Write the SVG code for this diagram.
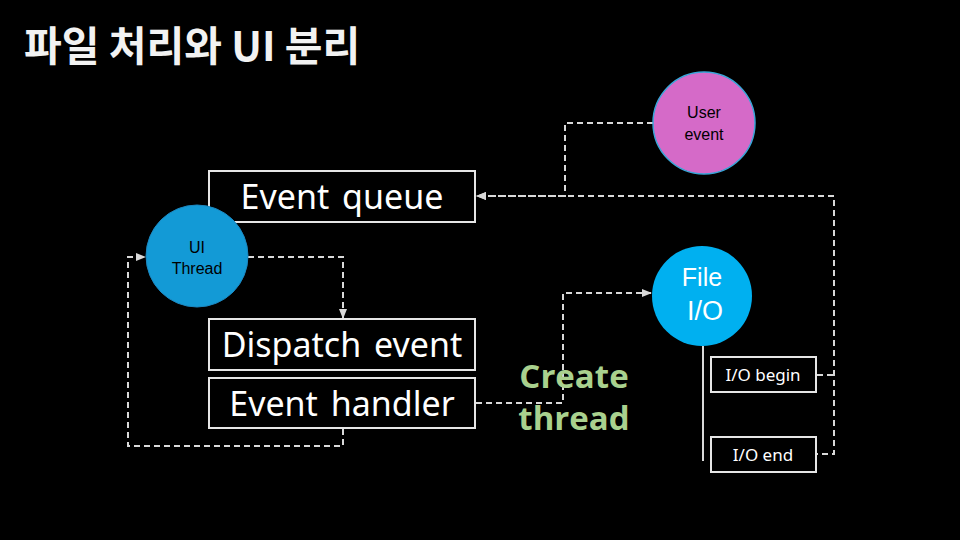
<svg xmlns="http://www.w3.org/2000/svg" width="960" height="540" viewBox="0 0 960 540">
<defs>
<marker id="ah" viewBox="0 0 10 10" refX="9" refY="5" markerWidth="10" markerHeight="10" orient="auto-start-reverse" markerUnits="userSpaceOnUse">
<path d="M0,1 L10,5 L0,9 z" fill="#d9d9d9"/>
</marker>
<style>
.box{fill:#000;stroke:#e6e6e6;stroke-width:2}
.big{font-family:"Noto Sans","Open Sans","Noto Sans CJK KR",sans-serif;font-size:34px;fill:#fff;text-anchor:middle;word-spacing:4px}
.small{font-family:"Noto Sans","Open Sans",sans-serif;font-size:17px;fill:#fff;text-anchor:middle}
.lbl{font-family:"Liberation Sans",Arial,sans-serif;text-anchor:middle}
.dash{fill:none;stroke:#d9d9d9;stroke-width:2;stroke-dasharray:6 4}
.ct{font-family:"Open Sans","Noto Sans",sans-serif;font-size:33px;font-weight:bold;fill:#a9d18e;text-anchor:middle}
</style>
</defs>
<rect width="960" height="540" fill="#000"/>
<text x="24" y="61" font-family="'Noto Sans CJK KR',sans-serif" font-size="41" font-weight="bold" fill="#f2f2f2">파일 처리와 UI 분리</text>

<g id="connectors">
<path class="dash" d="M248,257 H343 V318" marker-end="url(#ah)"/>
<path class="dash" d="M343,429 V446 H128 V257 H145" marker-end="url(#ah)"/>
<path class="dash" d="M653,123 H565 V196 H477" marker-end="url(#ah)"/>
<path class="dash" stroke-dashoffset="5" d="M817,454 H834 V196 H477" marker-end="url(#ah)"/>
<path class="dash" d="M817,375 H834"/>
<path class="dash" d="M476,403 H563 V293 H651" marker-end="url(#ah)"/>
<path d="M703,346 V461" stroke="#d9d9d9" stroke-width="2" fill="none"/>
</g>

<g id="event-queue">
<rect class="box" x="209" y="171" width="266" height="51"/>
<text class="big" x="342" y="209">Event queue</text>
</g>
<g id="ui-thread">
<circle cx="197" cy="256" r="51" fill="#139ad6" stroke="#1c87c0" stroke-width="1"/>
<text class="lbl" x="197" y="253" font-size="16" fill="#000">UI</text>
<text class="lbl" x="197" y="274" font-size="16" fill="#000">Thread</text>
</g>
<g id="dispatch-event">
<rect class="box" x="209" y="319" width="266" height="51"/>
<text class="big" x="342" y="357">Dispatch event</text>
</g>
<g id="event-handler">
<rect class="box" x="209" y="378" width="266" height="50"/>
<text class="big" x="342" y="416">Event handler</text>
</g>
<g id="user-event">
<circle cx="704" cy="123" r="51" fill="#d56ac8" stroke="#3aa6d8" stroke-width="1.5"/>
<text class="lbl" x="704" y="118" font-size="16" fill="#000">User</text>
<text class="lbl" x="704" y="140" font-size="16" fill="#000">event</text>
</g>
<g id="file-io">
<circle cx="702" cy="296" r="50" fill="#00b0f0"/>
<text class="lbl" x="702" y="286" font-size="25" fill="#fff">File</text>
<text class="lbl" x="705" y="320" font-size="27" fill="#fff">I/O</text>
</g>
<g id="io-begin">
<rect class="box" x="711" y="357" width="105" height="35"/>
<text class="small" x="763" y="381">I/O begin</text>
</g>
<g id="io-end">
<rect class="box" x="711" y="437" width="105" height="35"/>
<text class="small" x="763" y="461">I/O end</text>
</g>
<g id="create-thread">
<text class="ct" x="574" y="388">Create</text>
<text class="ct" x="574" y="430">thread</text>
</g>
</svg>
